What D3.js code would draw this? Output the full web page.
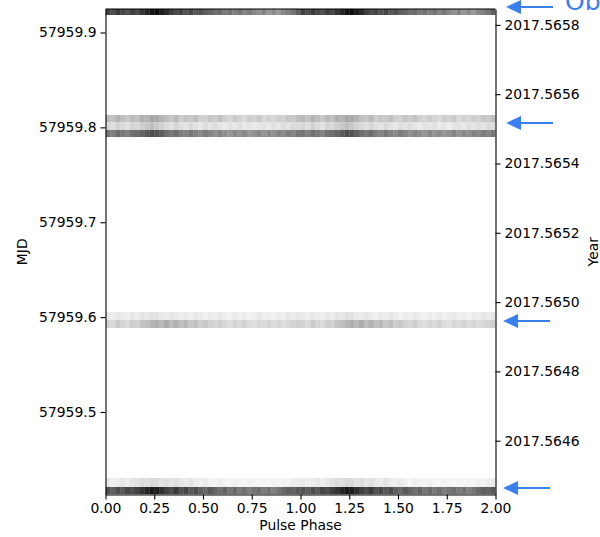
<!DOCTYPE html>
<html lang="en">
<head>
<meta charset="UTF-8">
<title>Pulse phase vs MJD</title>
<style>
  body { margin: 0; background: #fff; }
  text { font-family: "DejaVu Sans", sans-serif; font-size: 13.9px; }
  .domain { stroke: #000; stroke-width: 1.1px; }
  .tick line { stroke: #000; stroke-width: 1.1px; }
  .arrow { fill: #3a7ff0; stroke: #3a7ff0; }
</style>
</head>
<body>
<div id="container"></div>
<script src="https://cdn.jsdelivr.net/npm/d3@7"></script>
<script>
// phase axis ticks and MJD / year ticks
var phaseTicks = [0, 0.25, 0.5, 0.75, 1.0, 1.25, 1.5, 1.75, 2.0];
var mjdTicks = [57959.5, 57959.6, 57959.7, 57959.8, 57959.9];
var yearTicks = [2017.5646, 2017.5648, 2017.5650, 2017.5652, 2017.5654, 2017.5656, 2017.5658];
var mjdRange = [57959.41304, 57959.92477];
var yearAtRef = 2017.565778; // decimal year at MJD 57959.9
var refMjd = 57959.9;

// sub-integration rows (MJD top / bottom of each row)
var rowTop = [57959.92477, 57959.81304, 57959.80514, 57959.79723, 57959.60540, 57959.59697, 57959.43044, 57959.42095];
var rowBottom = [57959.91845, 57959.80514, 57959.79723, 57959.78986, 57959.59697, 57959.58854, 57959.42095, 57959.41304];

// one pulse cycle per row (40 phase bins), shown twice
var row0 = [0.80,0.76,0.82,0.78,0.74,0.80,0.77,0.83,0.88,0.93,0.95,0.90,0.86,0.80,0.76,0.79,0.74,0.78,0.72,0.75,0.70,0.68,0.64,0.66,0.60,0.63,0.58,0.62,0.56,0.60,0.55,0.52,0.57,0.50,0.54,0.49,0.55,0.58,0.62,0.70];
var row1 = [0.38,0.34,0.40,0.36,0.32,0.38,0.35,0.42,0.40,0.45,0.44,0.40,0.36,0.33,0.38,0.30,0.34,0.32,0.36,0.30,0.28,0.33,0.30,0.35,0.29,0.26,0.31,0.28,0.24,0.30,0.27,0.32,0.25,0.29,0.26,0.30,0.28,0.33,0.31,0.36];
var row2 = [0.26,0.22,0.28,0.24,0.20,0.27,0.25,0.30,0.33,0.36,0.32,0.28,0.24,0.21,0.26,0.22,0.19,0.24,0.20,0.17,0.22,0.19,0.23,0.18,0.15,0.20,0.17,0.21,0.16,0.19,0.14,0.18,0.20,0.16,0.21,0.18,0.22,0.19,0.24,0.23];
var row3 = [0.62,0.58,0.64,0.60,0.57,0.63,0.65,0.68,0.72,0.76,0.74,0.70,0.64,0.60,0.65,0.59,0.57,0.62,0.58,0.54,0.59,0.56,0.52,0.57,0.53,0.50,0.55,0.51,0.54,0.49,0.52,0.56,0.51,0.55,0.52,0.57,0.54,0.59,0.56,0.61];
var row4 = [0.16,0.13,0.18,0.15,0.12,0.17,0.14,0.19,0.17,0.21,0.20,0.16,0.14,0.18,0.15,0.12,0.16,0.13,0.17,0.14,0.11,0.15,0.12,0.16,0.13,0.10,0.14,0.12,0.15,0.11,0.13,0.16,0.12,0.14,0.11,0.15,0.13,0.17,0.14,0.18];
var row5 = [0.28,0.24,0.31,0.27,0.23,0.30,0.28,0.34,0.36,0.40,0.42,0.38,0.43,0.37,0.41,0.36,0.39,0.33,0.36,0.30,0.33,0.28,0.26,0.30,0.25,0.22,0.27,0.24,0.28,0.23,0.21,0.26,0.24,0.27,0.23,0.26,0.22,0.25,0.27,0.30];
var row6 = [0.16,0.12,0.14,0.18,0.13,0.17,0.20,0.23,0.22,0.25,0.24,0.20,0.22,0.18,0.21,0.17,0.15,0.19,0.14,0.12,0.16,0.11,0.09,0.13,0.10,0.08,0.11,0.09,0.07,0.10,0.08,0.06,0.09,0.07,0.10,0.08,0.11,0.09,0.13,0.14];
var row7 = [0.74,0.70,0.76,0.72,0.78,0.75,0.80,0.84,0.88,0.92,0.90,0.85,0.80,0.76,0.82,0.74,0.78,0.72,0.76,0.70,0.66,0.72,0.68,0.64,0.69,0.62,0.66,0.60,0.64,0.58,0.62,0.65,0.60,0.63,0.58,0.62,0.66,0.70,0.68,0.72];
var profiles = [row0, row1, row2, row3, row4, row5, row6, row7];

// observation markers (MJD)
var arrowMjd = [57959.92688, 57959.80461, 57959.59592, 57959.41990];
var arrowTip = [506, 506, 503, 503];

var W = 600, H = 537;
var pLeft = 105.5, pRight = 495.5, pTop = 9, pBottom = 494.5;

var svg = d3.select("#container").append("svg")
    .attr("width", W).attr("height", H);

var x = d3.scaleLinear().domain([0, 2]).range([pLeft, pRight]);
var y = d3.scaleLinear().domain(mjdRange).range([pBottom, pTop]);
var toYear = function (m) { return yearAtRef + (m - refMjd) / 365.25; };
var yYear = d3.scaleLinear().domain(mjdRange.map(toYear)).range([pBottom, pTop]);
var color = d3.scaleSequential(d3.interpolateGreys).domain([0, 1]);

svg.append("clipPath").attr("id", "plotclip")
  .append("rect").attr("x", pLeft).attr("y", pTop)
  .attr("width", pRight - pLeft).attr("height", pBottom - pTop);

// build cells
var cells = [];
profiles.forEach(function (p, r) {
  var nb = p.length;
  for (var c = 0; c < 2; c++) {
    p.forEach(function (v, i) {
      cells.push({ r: r, p0: c + i / nb, p1: c + (i + 1) / nb, v: v });
    });
  }
});

svg.append("g").attr("clip-path", "url(#plotclip)")
  .selectAll("rect").data(cells).enter().append("rect")
  .attr("x", function (d) { return x(d.p0); })
  .attr("width", function (d) { return x(d.p1) - x(d.p0) + 0.3; })
  .attr("y", function (d) { return y(rowTop[d.r]); })
  .attr("height", function (d) { return y(rowBottom[d.r]) - y(rowTop[d.r]); })
  .attr("fill", function (d) { return color(d.v); });

// axes
var xAxis = d3.axisBottom(x).tickValues(phaseTicks).tickFormat(d3.format(".2f"))
  .tickSize(5).tickPadding(4).tickSizeOuter(0);
var yAxis = d3.axisLeft(y).tickValues(mjdTicks).tickFormat(d3.format(".1f"))
  .tickSize(5).tickPadding(4).tickSizeOuter(0);
var yAxisR = d3.axisRight(yYear).tickValues(yearTicks).tickFormat(d3.format(".4f"))
  .tickSize(5).tickPadding(4).tickSizeOuter(0);

var gx = svg.append("g").attr("transform", "translate(0," + pBottom + ")").call(xAxis);
var gy = svg.append("g").attr("transform", "translate(" + pLeft + ",0)").call(yAxis);
var gr = svg.append("g").attr("transform", "translate(" + pRight + ",0)").call(yAxisR);
[gx, gy, gr].forEach(function (g) {
  g.attr("font-family", null).attr("font-size", null);
  g.selectAll("text").style("font-family", "DejaVu Sans").style("font-size", "13.9px").style("fill", "#000");
});

// top spine
svg.append("line").attr("x1", pLeft).attr("x2", pRight).attr("y1", pTop).attr("y2", pTop)
  .attr("stroke", "#000").attr("stroke-width", 1.1);

// axis labels
svg.append("text").attr("x", (pLeft + pRight) / 2).attr("y", 530)
  .attr("text-anchor", "middle").text("Pulse Phase");
svg.append("text").attr("transform", "translate(27," + (pTop + pBottom) / 2 + ") rotate(-90)")
  .attr("text-anchor", "middle").text("MJD");
svg.append("text").attr("transform", "translate(598," + (pTop + pBottom) / 2 + ") rotate(-90)")
  .attr("text-anchor", "middle").text("Year");

// blue arrows
var arrows = svg.append("g");
arrowMjd.forEach(function (m, i) {
  var ay = y(m), tip = arrowTip[i];
  arrows.append("line").attr("class", "arrow")
    .attr("x1", tip + 10).attr("x2", tip + 47).attr("y1", ay).attr("y2", ay)
    .attr("stroke-width", 2);
  arrows.append("path").attr("class", "arrow")
    .attr("stroke-width", 0)
    .attr("d", "M" + tip + "," + ay + "L" + (tip + 15) + "," + (ay - 7) + "L" + (tip + 15) + "," + (ay + 7) + "Z");
});

svg.append("text").attr("x", 565).attr("y", 10)
  .style("font-size", "25px").style("fill", "#3a7ff0").text("Obs");
</script>
</body>
</html>
